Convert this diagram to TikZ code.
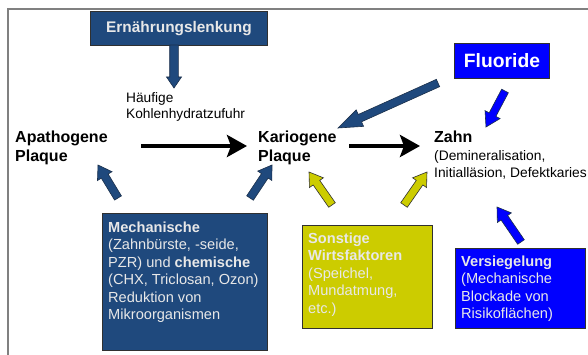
\documentclass[tikz,border=0pt]{standalone}
\usepackage{fontspec}
\setmainfont{Liberation Sans}
\usetikzlibrary{calc,arrows.meta}

\definecolor{navy}{HTML}{1F497D}
\definecolor{navyline}{HTML}{1A2F4A}
\definecolor{brightblue}{HTML}{0000FF}
\definecolor{olivebox}{HTML}{CCCC00}
\definecolor{boxtext}{HTML}{E8E8E8}
\definecolor{framegray}{HTML}{808080}
\definecolor{edgegray}{HTML}{303030}

\newcommand\blockarrow[6]{% tail, tip, style, half shaft, half head, head length
  \coordinate (hb) at ($(#2)!#6!(#1)$);
  \draw[#3] ($(#1)!#4!90:(#2)$) -- ($(hb)!#4!90:(#2)$) -- ($(hb)!#5!90:(#2)$) -- (#2)
    -- ($(hb)!#5!-90:(#2)$) -- ($(hb)!#4!-90:(#2)$) -- ($(#1)!#4!-90:(#2)$) -- cycle;
}

\tikzset{
  colbox/.style={draw=edgegray, line width=0.9pt, inner sep=0pt, anchor=north west},
  boxlabel/.style={inner sep=0pt, anchor=north west, align=left, font=\fontsize{14.6}{17.5}\selectfont},
  bigtext/.style={inner sep=0pt, anchor=north west, align=left, font=\fontsize{16}{19}\selectfont\bfseries},
  smalltext/.style={inner sep=0pt, anchor=north west, align=left, font=\fontsize{13.7}{16.5}\selectfont},
  navyarrow/.style={fill=navy, draw=navyline, line width=0.6pt},
  bluearrow/.style={fill=brightblue, draw=navyline, line width=0.6pt},
  olivearrow/.style={fill=olivebox, draw=edgegray, line width=0.6pt},
  blackarrow/.style={line width=4pt, -{Stealth[length=20pt,width=22pt,inset=4pt]}}
}

\begin{document}
\begin{tikzpicture}[x=1pt, y=-1pt]
\useasboundingbox (0,0) rectangle (588,355);
\fill[white] (0,0) rectangle (588,355);
\draw[framegray, line width=1.5pt] (8,360) -- (8,9) -- (592,9);

% boxes
\node[colbox, fill=navy, minimum width=177pt, minimum height=34pt, text=boxtext,
      font=\fontsize{15.4}{18}\selectfont\bfseries] (ern) at (90,11) {Ernährungslenkung};
\node[colbox, fill=brightblue, minimum width=95pt, minimum height=35pt, text=white,
      font=\fontsize{19.3}{22}\selectfont\bfseries] (fluor) at (454,43) {Fluoride};
\node[colbox, fill=navy, minimum width=165pt, minimum height=137pt] (mech) at (102,213) {};
\node[colbox, fill=olivebox, minimum width=130pt, minimum height=103pt] (sonst) at (302,225) {};
\node[colbox, fill=brightblue, minimum width=130pt, minimum height=80pt] (vers) at (455,248) {};

% box texts
\node[boxlabel, text=boxtext] (mechtxt) at (108,221.6)
  {\textbf{Mechanische}\\(Zahnbürste, -seide,\\PZR) und \textbf{chemische}\\(CHX, Triclosan, Ozon)\\Reduktion von\\Mikroorganismen};
\node[boxlabel, text=boxtext] (sonsttxt) at (308,232.6)
  {\textbf{Sonstige}\\\textbf{Wirtsfaktoren}\\(Speichel,\\Mundatmung,\\etc.)};
\node[boxlabel, text=boxtext] (verstxt) at (461,255.6)
  {\textbf{Versiegelung}\\(Mechanische\\Blockade von\\Risikoflächen)};

% free texts
\node[smalltext] (kh) at (126,91.9) {Häufige\\Kohlenhydratzufuhr};
\node[bigtext] (apa) at (15,131.1) {Apathogene\\Plaque};
\node[bigtext] (kario) at (258,131.1) {Kariogene\\Plaque};
\node[bigtext] (zahn) at (434,131.1) {Zahn};
\node[smalltext, font=\fontsize{13.8}{17}\selectfont] (zahnsub) at (434,149.9)
  {(Demineralisation,\\Initialläsion, Defektkaries};

% connector end points
\coordinate (e1s) at (174,45);   \coordinate (e1t) at (174,88);
\coordinate (f1s) at (438,83);   \coordinate (f1t) at (338,128);
\coordinate (f2s) at (505,91);   \coordinate (f2t) at (486,127);
\coordinate (m1s) at (118,198);  \coordinate (m1t) at (98,165);
\coordinate (m2s) at (250,198);  \coordinate (m2t) at (272,165);
\coordinate (s1s) at (332,205);  \coordinate (s1t) at (309,172);
\coordinate (s2s) at (404,205);  \coordinate (s2t) at (427,172);
\coordinate (v1s) at (521,242);  \coordinate (v1t) at (497,207);
\coordinate (b1s) at (141,146);  \coordinate (b1t) at (247,146);
\coordinate (b2s) at (349,146);  \coordinate (b2t) at (420,146);

% block arrows
\blockarrow{e1s}{e1t}{navyarrow}{4.3pt}{7.5pt}{11pt}
\blockarrow{f1s}{f1t}{navyarrow}{4pt}{9pt}{24pt}
\blockarrow{f2s}{f2t}{bluearrow}{3.8pt}{8.5pt}{14pt}
\blockarrow{m1s}{m1t}{navyarrow}{4pt}{8.5pt}{13pt}
\blockarrow{m2s}{m2t}{navyarrow}{4pt}{8.5pt}{13pt}
\blockarrow{s1s}{s1t}{olivearrow}{4pt}{8.5pt}{13pt}
\blockarrow{s2s}{s2t}{olivearrow}{4pt}{8.5pt}{13pt}
\blockarrow{v1s}{v1t}{bluearrow}{4pt}{8.5pt}{13pt}

% black arrows
\draw[blackarrow] (b1s) -- (b1t);
\draw[blackarrow] (b2s) -- (b2t);
\end{tikzpicture}
\end{document}
